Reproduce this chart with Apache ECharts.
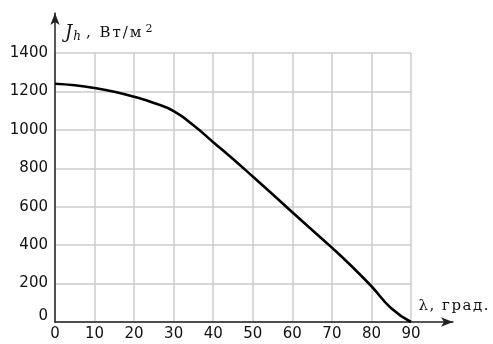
<!DOCTYPE html>
<html><head><meta charset="utf-8">
<script src="https://cdn.jsdelivr.net/npm/echarts@6/dist/echarts.min.js"></script>
<style>html,body{margin:0;padding:0;background:#fff}#c{width:493px;height:344px}</style>
</head><body><div id="c"></div>
<script>
const latitude = [0,5,10,15,20,25,30,35,40,45,50,55,60,65,70,75,80,85,90];
const irradiance = [1240,1232,1218,1198,1172,1140,1098,1024,936,848,757,665,571,479,387,290,186,72,0];
const xTicks = [0,10,20,30,40,50,60,70,80,90];
const yTicks = [0,200,400,600,800,1000,1200,1400];
const xNameChars = ['λ', ',', ' ', 'г', 'р', 'а', 'д', '.'];
const yNameChars = [',', ' ', 'В', 'т', '/', 'м'];

const chart = echarts.init(document.getElementById('c'), null, {renderer:'canvas'});
const tickFont = {fontFamily:'DejaVu Sans', fontSize:15, color:'#111'};
const serif = {fontFamily:'DejaVu Serif', fontSize:15, color:'#111'};
const spaced = Object.assign({padding:[0,1.5,0,0]}, serif);
const spacedY = Object.assign({padding:[0,2,0,0]}, serif);
chart.setOption({
  animation:false,
  grid:[
    {left:55, right:82, top:53, bottom:22},
    {left:55, right:40, top:13, bottom:22}
  ],
  xAxis:[
    {type:'value', gridIndex:0, min:xTicks[0], max:xTicks[xTicks.length-1], interval:10,
     axisLine:{show:false}, axisTick:{show:false},
     axisLabel:Object.assign({margin:5}, tickFont),
     splitLine:{show:true, lineStyle:{color:'#cccccc', width:1.5}}},
    {type:'value', gridIndex:1, min:0, max:1,
     axisLine:{show:true, lineStyle:{color:'#222', width:1.5}, symbol:['none','arrow'], symbolSize:[7,12]},
     axisTick:{show:false}, axisLabel:{show:false}, splitLine:{show:false},
     name:xNameChars.map(c=>'{c|'+c+'}').join(''), nameLocation:'end', nameGap:0,
     nameTextStyle:Object.assign({align:'right', verticalAlign:'bottom', padding:[0,-37,8,0], rich:{c:spaced}}, serif)}
  ],
  yAxis:[
    {type:'value', gridIndex:0, min:yTicks[0], max:yTicks[yTicks.length-1], interval:200,
     axisLine:{show:false}, axisTick:{show:false},
     axisLabel:Object.assign({margin:7, formatter:v => v===0 ? '{z|0}' : String(v), rich:{z:{fontFamily:'DejaVu Sans', fontSize:15, color:'#111', padding:[0,0,12,0]}}}, tickFont),
     splitLine:{show:true, lineStyle:{color:'#cccccc', width:1.5}}},
    {type:'value', gridIndex:1, min:0, max:1,
     axisLine:{show:true, lineStyle:{color:'#222', width:1.5}, symbol:['none','arrow'], symbolSize:[7,12]},
     axisTick:{show:false}, axisLabel:{show:false}, splitLine:{show:false},
     name:'{j|J}{h|h}' + yNameChars.map(c=>'{t|'+c+'}').join('') + '{s|2}', nameLocation:'end', nameGap:0,
     nameTextStyle:{align:'left', verticalAlign:'top', padding:[11,0,0,10],
       rich:{
         j:{fontFamily:'DejaVu Serif', fontStyle:'italic', fontSize:18, color:'#111'},
         h:{fontFamily:'DejaVu Serif', fontStyle:'italic', fontSize:12, color:'#111', padding:[6,5,0,1]},
         t:spacedY,
         s:{fontFamily:'DejaVu Serif', fontSize:11, color:'#111', padding:[0,0,8,2]}
       }}}
  ],
  series:[{
    type:'line', xAxisIndex:0, yAxisIndex:0,
    data:latitude.map((x,i)=>[x, irradiance[i]]),
    smooth:0.5, showSymbol:false, symbol:'none',
    lineStyle:{color:'#000', width:2.6}
  }]
});
</script></body></html>
